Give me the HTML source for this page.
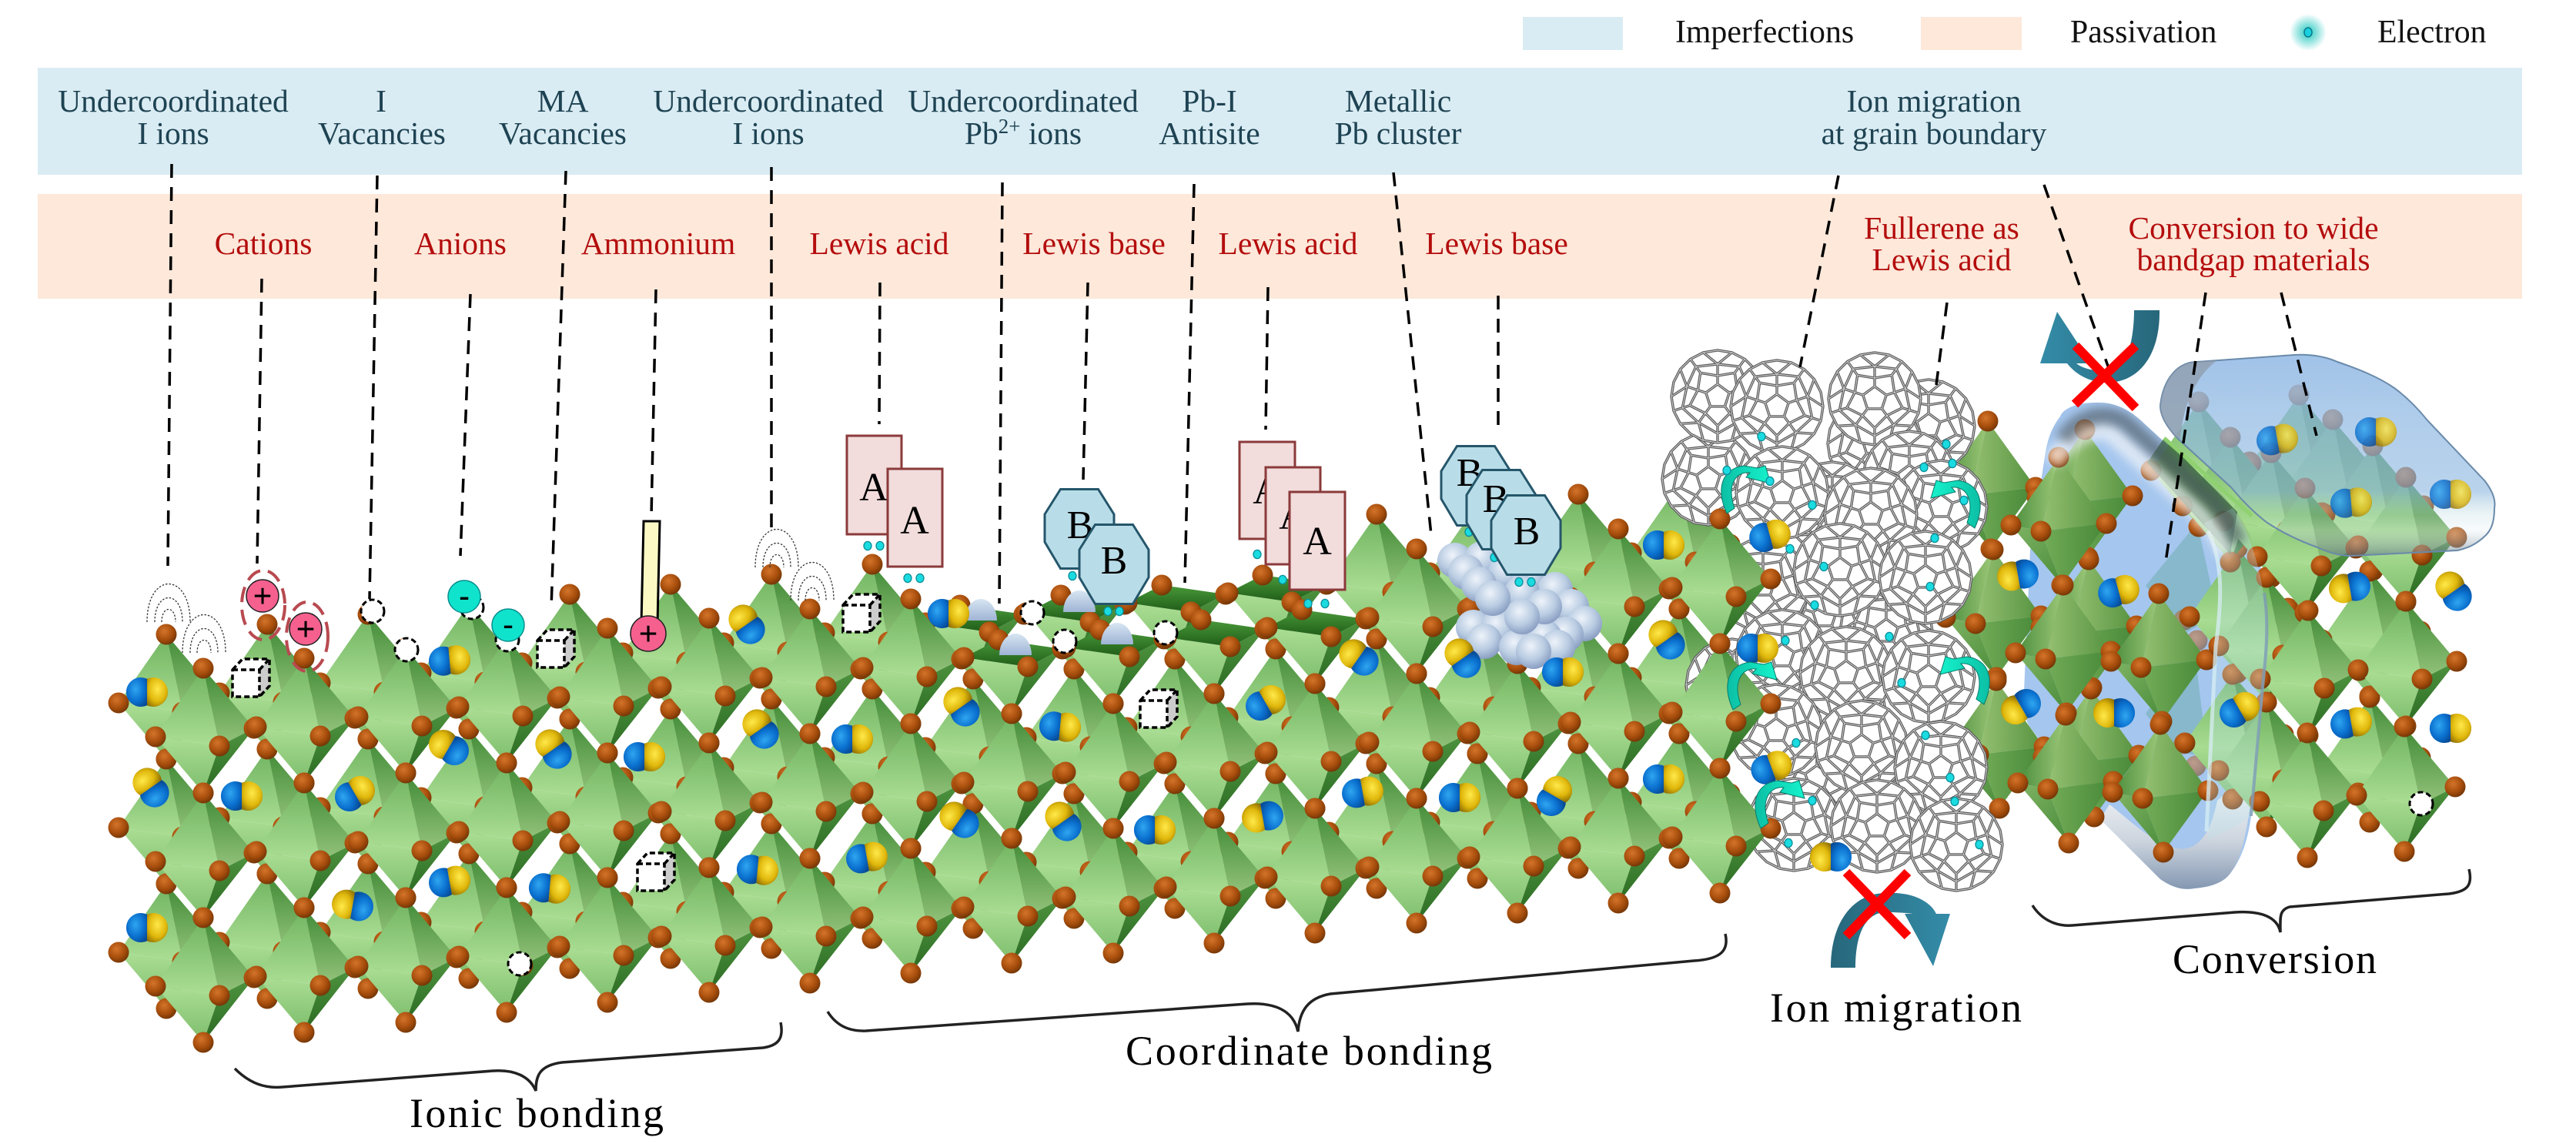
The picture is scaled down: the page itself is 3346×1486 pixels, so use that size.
<!DOCTYPE html>
<html><head><meta charset="utf-8"><style>html,body{margin:0;padding:0;background:#fff}svg{display:block}text{font-family:"Liberation Serif",serif}</style></head><body>
<svg xmlns="http://www.w3.org/2000/svg" width="3346" height="1486" viewBox="0 0 3346 1486">
<defs>
<linearGradient id="fa" x1="0" y1="0" x2="0" y2="1"><stop offset="0" stop-color="#6fb35f"/><stop offset="1" stop-color="#abde94"/></linearGradient>
<linearGradient id="fb" x1="0" y1="0" x2="0" y2="1"><stop offset="0" stop-color="#3f8a35"/><stop offset="1" stop-color="#95c47c"/></linearGradient>
<linearGradient id="fc" x1="0" y1="0" x2="0" y2="1"><stop offset="0" stop-color="#abde94"/><stop offset="1" stop-color="#7dbd6c"/></linearGradient>
<linearGradient id="fd" x1="0" y1="0" x2="0" y2="1"><stop offset="0" stop-color="#4f9440"/><stop offset="1" stop-color="#2a6a22"/></linearGradient>
<linearGradient id="p1" x1="0" y1="0" x2="1" y2="0"><stop offset="0" stop-color="#4a8c3c"/><stop offset="1" stop-color="#9cc878"/></linearGradient>
<linearGradient id="p2" x1="0" y1="0" x2="1" y2="0"><stop offset="0" stop-color="#96c173"/><stop offset="1" stop-color="#55923f"/></linearGradient>
<linearGradient id="p3" x1="0" y1="0" x2="1" y2="1"><stop offset="0" stop-color="#80b565"/><stop offset="1" stop-color="#4a8c3a"/></linearGradient>
<linearGradient id="p4" x1="0" y1="0" x2="1" y2="0"><stop offset="0" stop-color="#74ad58"/><stop offset="1" stop-color="#468838"/></linearGradient>
<linearGradient id="flat" x1="0" y1="0" x2="0" y2="1"><stop offset="0" stop-color="#4a9a3a"/><stop offset="1" stop-color="#1f5c18"/></linearGradient>
<radialGradient id="bd" cx=".4" cy=".35" r=".7"><stop offset="0" stop-color="#d4742a"/><stop offset=".6" stop-color="#a64d0c"/><stop offset="1" stop-color="#6c3306"/></radialGradient>
<radialGradient id="by" cx=".5" cy=".4" r=".7"><stop offset="0" stop-color="#ffe94a"/><stop offset=".6" stop-color="#e0b80c"/><stop offset="1" stop-color="#8f7004"/></radialGradient>
<radialGradient id="bb" cx=".45" cy=".4" r=".7"><stop offset="0" stop-color="#2fa6f0"/><stop offset=".6" stop-color="#0a70cf"/><stop offset="1" stop-color="#074a95"/></radialGradient>
<radialGradient id="sph" cx=".42" cy=".35" r=".7"><stop offset="0" stop-color="#eef3fa"/><stop offset=".55" stop-color="#b9cce2"/><stop offset="1" stop-color="#8296bd"/></radialGradient>
<linearGradient id="dome" x1="0" y1="0" x2="0" y2="1"><stop offset="0" stop-color="#d7e6f2"/><stop offset="1" stop-color="#9fb4d6"/></linearGradient>
<linearGradient id="teal" x1="0" y1="0" x2="1" y2="0"><stop offset="0" stop-color="#348ca8"/><stop offset="1" stop-color="#27677b"/></linearGradient>
<linearGradient id="teal2" x1="0" y1="0" x2="1" y2="0"><stop offset="0" stop-color="#27677b"/><stop offset="1" stop-color="#348ca8"/></linearGradient>
<linearGradient id="grn" x1="0" y1="0" x2="1" y2="0"><stop offset="0" stop-color="#0cbfa5"/><stop offset="1" stop-color="#16f2cc"/></linearGradient>
<radialGradient id="glow"><stop offset="0" stop-color="#25c8c0"/><stop offset="1" stop-color="#25c8c0" stop-opacity="0"/></radialGradient>
<linearGradient id="blob" x1="0" y1="0" x2="0" y2="1"><stop offset="0" stop-color="#9cbfe6" stop-opacity=".95"/><stop offset=".3" stop-color="#93bbe4" stop-opacity=".74"/><stop offset=".68" stop-color="#8fb8e0" stop-opacity=".62"/><stop offset=".8" stop-color="#b5d6dc" stop-opacity=".25"/><stop offset=".87" stop-color="#e6f2f6" stop-opacity=".3"/><stop offset="1" stop-color="#5d7180" stop-opacity=".6"/></linearGradient>
<linearGradient id="bot" x1="0" y1="0" x2="0" y2="1"><stop offset="0" stop-color="#fff"/><stop offset=".6" stop-color="#ccd4de"/><stop offset="1" stop-color="#8498b2"/></linearGradient>
<filter id="bl" x="-20%" y="-20%" width="140%" height="140%"><feGaussianBlur stdDeviation="6"/></filter>
<clipPath id="tubeclip"><path d="M2728,523C2700,522 2680,530 2676,541C2665,555 2660,570 2657,587L2637,715L2629,899C2628,920 2630,935 2637,945L2728,1064L2806,1142C2825,1155 2838,1156 2850,1154C2875,1152 2890,1145 2898,1133C2912,1115 2920,1090 2924,1060L2945,853C2948,800 2945,780 2941,761C2935,725 2930,705 2919,688C2910,670 2895,650 2880,637L2785,550C2770,535 2750,523 2728,523Z"/></clipPath>
<g id="b"><circle r="13.5" fill="url(#bd)"/></g>
<g id="o">
<polygon points="0,0 -62,89 21,101" fill="url(#fa)"/><polygon points="0,0 21,101 66,78" fill="url(#fb)"/><polygon points="-62,89 21,101 0,162" fill="url(#fc)"/><polygon points="21,101 66,78 0,162" fill="url(#fd)"/>
<use href="#b"/><use href="#b" x="-62" y="89"/><use href="#b" x="21" y="101"/><use href="#b" x="66" y="78"/><use href="#b" y="162"/></g>
<g id="h">
<polygon points="-62,89 21,101 0,162" fill="url(#fc)"/><polygon points="21,101 66,78 0,162" fill="url(#fd)"/><polygon points="-62,89 21,101 66,78 -17,66" fill="url(#flat)"/>
<use href="#b" x="-17" y="66"/><use href="#b" x="-62" y="89"/><use href="#b" x="21" y="101"/><use href="#b" x="66" y="78"/><use href="#b" y="162"/></g>
<g id="p">
<polygon points="0,0 -62,88 -23,96" fill="url(#p1)"/><polygon points="0,0 -23,96 62,86" fill="url(#p2)"/><polygon points="-62,88 -23,96 4,166" fill="url(#p3)"/><polygon points="-23,96 62,86 4,166" fill="url(#p4)"/>
<use href="#b"/><use href="#b" x="-62" y="88"/><use href="#b" x="-23" y="96"/><use href="#b" x="62" y="86"/><use href="#b" x="4" y="166"/></g>
<g id="m"><path d="M0,-17.2A19,19 0 1 0 0,17.2Z" fill="url(#bb)"/><path d="M0,-17.2A19,19 0 1 1 0,17.2Z" fill="url(#by)"/></g>
<g id="w" fill="none" stroke="#333" stroke-width="1.3" stroke-dasharray="2.5 2"><path d="M-28,0C-28,-66 28,-66 28,0"/><path d="M-18,0C-18,-42 18,-42 18,0"/><path d="M-9,0C-9,-22 9,-22 9,0"/></g>
<g id="c"><polygon points="0,14 13,0 48,0 35,14" fill="#fff"/><polygon points="35,14 48,0 48,35 35,49" fill="#ccc"/><rect y="14" width="35" height="35" fill="#fff"/><path d="M0,14L13,0H48V35L35,49H0ZM0,14H35V49M35,14L48,0" fill="none" stroke="#000" stroke-width="3.5" stroke-dasharray="7 4"/></g>
<g id="v"><circle r="15" fill="#fff" stroke="#000" stroke-width="3" stroke-dasharray="7 4"/></g>
<g id="e"><ellipse rx="5" ry="5.6" fill="#1adbe0" stroke="#0a8f9a" stroke-width="1.3"/></g>
<g id="s"><circle r="23" fill="url(#sph)"/></g>
<path id="fp" d="M0,-16L15.2,-4.9L9.4,12.9L-9.4,12.9L-15.2,-4.9ZM0,-16V-27M15.2,-4.9L25.7,-8.3M9.4,12.9L15.9,21.8M-9.4,12.9L-15.9,21.8M-15.2,-4.9L-25.7,-8.3M0,-27L22.3,-30.7L25.7,-8.3L36.1,11.7L15.9,21.8L0,38L-15.9,21.8L-36.1,11.7L-25.7,-8.3L-22.3,-30.7ZM22.3,-30.7L28.2,-38.8M36.1,11.7L45.7,14.8M0,38V48M-36.1,11.7L-45.7,14.8M-22.3,-30.7L-28.2,-38.8M0,-27V-42M25.7,-8.3L39.9,-13M15.9,21.8L24.7,34M-15.9,21.8L-24.7,34M-25.7,-8.3L-39.9,-13M0,-42L28.2,-38.8L39.9,-13L45.7,14.8L24.7,34L0,48L-24.7,34L-45.7,14.8L-39.9,-13L-28.2,-38.8ZM28.2,-38.8L35.3,-48.5M45.7,14.8L57.1,18.5M0,48V60M-45.7,14.8L-57.1,18.5M-28.2,-38.8L-35.3,-48.5M0,-42L-18.5,-57.1M0,-42L18.5,-57.1M39.9,-13L60,0M39.9,-13L48.5,-35.3M24.7,34L48.5,35.3M24.7,34L18.5,57.1M-24.7,34L-18.5,57.1M-24.7,34L-48.5,35.3M-39.9,-13L-60,0M-39.9,-13L-48.5,-35.3M60,0L57.1,18.5L48.5,35.3L35.3,48.5L18.5,57.1L0,60L-18.5,57.1L-35.3,48.5L-48.5,35.3L-57.1,18.5L-60,0L-57.1,-18.5L-48.5,-35.3L-35.3,-48.5L-18.5,-57.1L0,-60L18.5,-57.1L35.3,-48.5L48.5,-35.3L57.1,-18.5Z"/>
<g id="f"><circle r="59" fill="#fff"/><use href="#fp" fill="none" stroke="#5c5c5c" stroke-width="3.4"/><use href="#fp" fill="none" stroke="#d2d2d2" stroke-width="1"/></g>
<path id="g1" d="M0,0C-14,-30 -8,-58 22,-62L40,-59L50,-62L57,-39L25,-47L30,-53C10,-55 0,-35 10,-7Z" fill="url(#grn)" stroke="#087a6a" stroke-width="1"/>
<polygon id="oc" points="-24.5,-51.5 24.5,-51.5 45,-19 45,17 24.5,51.5 -24.5,51.5 -45,17 -45,-19" fill="#b9dde8" stroke="#25566b" stroke-width="3"/>
</defs>

<!-- legend -->
<rect x="1978" y="22" width="130" height="43" fill="#daecf3"/>
<text x="2176" y="55" font-size="41.8" fill="#111">Imperfections</text>
<rect x="2495" y="22" width="131" height="43" fill="#fde8da"/>
<text x="2689" y="55" font-size="41.8" fill="#111">Passivation</text>
<circle cx="2998" cy="42" r="24" fill="url(#glow)"/><ellipse cx="2998" cy="42" rx="5" ry="6" fill="#1ad0e0" stroke="#0a7a8a" stroke-width="1.5"/>
<text x="3088" y="55" font-size="41.8" fill="#111">Electron</text>

<!-- bands -->
<rect x="49" y="88" width="3227" height="139" fill="#daecf3"/>
<rect x="49" y="252" width="3227" height="136" fill="#fde8da"/>
<g font-size="41.5" fill="#1e4353" text-anchor="middle">
<text x="225" y="145">Undercoordinated</text><text x="225" y="187">I ions</text>
<text x="495" y="145">I</text><text x="496" y="187">Vacancies</text>
<text x="731" y="145">MA</text><text x="731" y="187">Vacancies</text>
<text x="998" y="145">Undercoordinated</text><text x="998" y="187">I ions</text>
<text x="1329" y="145">Undercoordinated</text><text x="1329" y="187">Pb<tspan dy="-14" font-size="27">2+</tspan><tspan dy="14"> ions</tspan></text>
<text x="1571" y="145">Pb-I</text><text x="1571" y="187">Antisite</text>
<text x="1816" y="145">Metallic</text><text x="1816" y="187">Pb cluster</text>
<text x="2512" y="145">Ion migration</text><text x="2512" y="187">at grain boundary</text>
</g>
<g font-size="41.5" fill="#b40d0d" text-anchor="middle">
<text x="342" y="330">Cations</text><text x="598" y="330">Anions</text><text x="855" y="330">Ammonium</text>
<text x="1142" y="330">Lewis acid</text><text x="1421" y="330">Lewis base</text><text x="1673" y="330">Lewis acid</text><text x="1944" y="330">Lewis base</text>
<text x="2522" y="310">Fullerene as</text><text x="2522" y="351">Lewis acid</text>
<text x="2927" y="310">Conversion to wide</text><text x="2927" y="351">bandgap materials</text>
</g>

<!-- blue blob background -->
<path d="M2728,523C2700,522 2680,530 2676,541C2665,555 2660,570 2657,587L2637,715L2629,899C2628,920 2630,935 2637,945L2728,1064L2806,1142C2825,1155 2838,1156 2850,1154C2875,1152 2890,1145 2898,1133C2912,1115 2920,1090 2924,1060L2945,853C2948,800 2945,780 2941,761C2935,725 2930,705 2919,688C2910,670 2895,650 2880,637L2785,550C2770,535 2750,523 2728,523Z" fill="#a5c6ee"/>
<path d="M2728,1064L2806,1142C2825,1155 2838,1156 2850,1154C2875,1152 2890,1145 2898,1133C2915,1110 2922,1060 2928,1000L2880,1040C2870,1090 2850,1110 2820,1100C2790,1090 2760,1060 2740,1045Z" fill="url(#bot)"/>

<!-- left block back layer -->
<g>
<use href="#o" x="216" y="824"/><use href="#o" x="347" y="811"/><use href="#o" x="478" y="798"/><use href="#o" x="609" y="785"/><use href="#o" x="740" y="772"/><use href="#o" x="871" y="759"/><use href="#o" x="1002" y="746"/><use href="#o" x="1133" y="733"/><use href="#h" x="1264" y="720"/><use href="#h" x="1395" y="707"/><use href="#h" x="1526" y="694"/><use href="#h" x="1657" y="681"/><use href="#o" x="1788" y="668"/><use href="#o" x="1919" y="655"/><use href="#o" x="2050" y="642"/><use href="#o" x="2181" y="629"/>
<use href="#o" x="216" y="986"/><use href="#o" x="347" y="973"/><use href="#o" x="478" y="960"/><use href="#o" x="609" y="947"/><use href="#o" x="740" y="934"/><use href="#o" x="871" y="921"/><use href="#o" x="1002" y="908"/><use href="#o" x="1133" y="895"/><use href="#o" x="1264" y="882"/><use href="#o" x="1395" y="869"/><use href="#o" x="1526" y="856"/><use href="#o" x="1657" y="843"/><use href="#o" x="1788" y="830"/><use href="#o" x="1919" y="817"/><use href="#o" x="2050" y="804"/><use href="#o" x="2181" y="791"/>
<use href="#o" x="216" y="1148"/><use href="#o" x="347" y="1135"/><use href="#o" x="478" y="1122"/><use href="#o" x="609" y="1109"/><use href="#o" x="740" y="1096"/><use href="#o" x="871" y="1083"/><use href="#o" x="1002" y="1070"/><use href="#o" x="1133" y="1057"/><use href="#o" x="1264" y="1044"/><use href="#o" x="1395" y="1031"/><use href="#o" x="1526" y="1018"/><use href="#o" x="1657" y="1005"/><use href="#o" x="1788" y="992"/><use href="#o" x="1919" y="979"/><use href="#o" x="2050" y="966"/><use href="#o" x="2181" y="953"/>
</g>

<!-- right block -->
<g>
<use href="#p" x="2582" y="547"/><use href="#p" x="2589" y="714"/><use href="#p" x="2593" y="884"/>
<use href="#p" x="2708" y="558"/><use href="#p" x="2713" y="727"/><use href="#p" x="2716" y="895"/>
<polygon points="2787,761 2854,679 2880,798 2841,821" fill="#7db3c0" opacity=".75"/>
<polygon points="2787,927 2850,839 2867,982 2824,977" fill="#7db3c0" opacity=".75"/>
<use href="#b" x="2837" y="805" opacity=".5"/><use href="#b" x="2854" y="832" opacity=".5"/><use href="#b" x="2837" y="966" opacity=".5"/><use href="#b" x="2852" y="995" opacity=".5"/>
<use href="#p" x="2674" y="594"/><use href="#p" x="2680" y="760"/><use href="#p" x="2683" y="929"/>
<use href="#p" x="2804" y="771"/><use href="#p" x="2806" y="941"/>
<use href="#o" x="2906" y="712"/><use href="#o" x="2900" y="876"/>
<use href="#o" x="2856" y="522"/><use href="#o" x="2986" y="513"/><use href="#o" x="2897" y="568"/>
<use href="#o" x="3030" y="545"/>
<use href="#o" x="2950" y="588"/><use href="#o" x="2944" y="750"/><use href="#o" x="2944" y="912"/>
<use href="#o" x="3082" y="579"/><use href="#o" x="3078" y="742"/><use href="#o" x="3078" y="906"/>
<use href="#o" x="2994" y="634"/><use href="#o" x="2998" y="793"/><use href="#o" x="2997" y="952"/>
<use href="#o" x="3125" y="620"/><use href="#o" x="3125" y="781"/><use href="#o" x="3123" y="944"/>
</g>

<!-- blob overlays -->
<polygon points="2811,569 2906,665 2897,720 2789,601" fill="#2f5f35" opacity=".75"/>
<path d="M2862,680C2890,720 2888,770 2880,840L2872,1000L2868,1090C2890,1080 2915,1070 2924,1060L2945,853C2948,780 2930,700 2900,660Z" fill="#bfe2ec" fill-opacity=".32"/>
<path d="M2868,690C2888,730 2886,780 2878,840L2870,1000L2866,1080" fill="none" stroke="#d5ecf2" stroke-width="5" stroke-opacity=".8"/>
<path d="M2941,770C2946,800 2945,840 2940,880L2924,1060" fill="none" stroke="#7d9bb5" stroke-width="4" stroke-opacity=".8"/>
<g clip-path="url(#tubeclip)">
<path d="M2665,600C2690,565 2725,550 2745,565L2850,660C2870,680 2885,700 2892,720" fill="none" stroke="#f2f5f8" stroke-width="24" stroke-opacity=".7" filter="url(#bl)"/>
<path d="M2680,572C2695,545 2730,530 2760,548L2872,648C2888,665 2900,685 2908,705" fill="none" stroke="#4a5660" stroke-width="22" stroke-opacity=".62" filter="url(#bl)"/>
</g>
<line x1="2811" y1="569" x2="2925" y2="670" stroke="#8fd070" stroke-width="5"/>
<path d="M2806,527C2810,490 2830,470 2854,470L2980,461C3000,460 3020,463 3036,470C3065,480 3090,490 3110,504C3125,515 3140,530 3153,546L3227,624C3238,638 3242,650 3240,660C3240,680 3235,690 3227,697C3215,708 3205,712 3192,715L3054,722C3040,722 3025,718 3010,711C2985,702 2965,692 2945,679C2930,668 2912,650 2898,633L2828,569C2815,555 2806,540 2806,527Z" fill="url(#blob)" stroke="#6a8aaa" stroke-width="2"/>
<path d="M2806,527C2810,490 2830,470 2854,470L2880,468C2850,490 2835,530 2832,570L2828,569C2815,555 2806,540 2806,527Z" fill="#8d99a6" opacity=".7"/>

<!-- fullerenes -->
<g>
<use href="#f" x="2219" y="622"/><use href="#f" x="2231" y="515"/><use href="#f" x="2505" y="553"/><use href="#f" x="2434" y="576"/><use href="#f" x="2308" y="528"/><use href="#f" x="2435" y="518"/><use href="#f" x="2380" y="660"/><use href="#f" x="2480" y="620"/><use href="#f" x="2315" y="640"/><use href="#f" x="2521" y="658"/><use href="#f" x="2430" y="668"/><use href="#f" x="2370" y="800"/><use href="#f" x="2450" y="820"/><use href="#f" x="2290" y="760"/><use href="#f" x="2390" y="740"/><use href="#f" x="2501" y="750"/><use href="#f" x="2250" y="890"/><use href="#f" x="2390" y="930"/><use href="#f" x="2315" y="852"/><use href="#f" x="2398" y="874"/><use href="#f" x="2505" y="879"/><use href="#f" x="2360" y="1010"/><use href="#f" x="2480" y="1020"/><use href="#f" x="2307" y="949"/><use href="#f" x="2418" y="970"/><use href="#f" x="2521" y="997"/><use href="#f" x="2330" y="1071"/><use href="#f" x="2438" y="1073"/><use href="#f" x="2541" y="1097"/>
</g>

<!-- left block front layer -->
<g>
<use href="#o" x="264" y="868"/><use href="#o" x="395" y="855"/><use href="#o" x="527" y="842"/><use href="#o" x="658" y="829"/><use href="#o" x="789" y="816"/><use href="#o" x="921" y="803"/><use href="#o" x="1052" y="791"/><use href="#o" x="1183" y="778"/><use href="#h" x="1314" y="765"/><use href="#h" x="1446" y="752"/><use href="#h" x="1577" y="739"/><use href="#h" x="1708" y="726"/><use href="#o" x="1840" y="713"/><use href="#o" x="1971" y="700"/><use href="#o" x="2102" y="687"/><use href="#o" x="2234" y="674"/>
<use href="#o" x="264" y="1030"/><use href="#o" x="395" y="1017"/><use href="#o" x="527" y="1004"/><use href="#o" x="658" y="991"/><use href="#o" x="789" y="978"/><use href="#o" x="921" y="965"/><use href="#o" x="1052" y="953"/><use href="#o" x="1183" y="940"/><use href="#o" x="1314" y="927"/><use href="#o" x="1446" y="914"/><use href="#o" x="1577" y="901"/><use href="#o" x="1708" y="888"/><use href="#o" x="1840" y="875"/><use href="#o" x="1971" y="862"/><use href="#o" x="2102" y="849"/><use href="#o" x="2234" y="836"/>
<use href="#o" x="264" y="1192"/><use href="#o" x="395" y="1179"/><use href="#o" x="527" y="1166"/><use href="#o" x="658" y="1153"/><use href="#o" x="789" y="1140"/><use href="#o" x="921" y="1127"/><use href="#o" x="1052" y="1115"/><use href="#o" x="1183" y="1102"/><use href="#o" x="1314" y="1089"/><use href="#o" x="1446" y="1076"/><use href="#o" x="1577" y="1063"/><use href="#o" x="1708" y="1050"/><use href="#o" x="1840" y="1037"/><use href="#o" x="1971" y="1024"/><use href="#o" x="2102" y="1011"/><use href="#o" x="2234" y="998"/>
</g>

<!-- domes -->
<g fill="url(#dome)"><path d="M1253,806A21,28 0 0 1 1295,806Z"/><path d="M1381,795A21,28 0 0 1 1423,795Z"/><path d="M1430,837A21,28 0 0 1 1472,837Z"/><path d="M1298,851A21,28 0 0 1 1340,851Z"/></g>

<!-- metallic cluster -->
<g>
<use href="#s" x="1890" y="728"/><use href="#s" x="1925" y="726"/><use href="#s" x="1956" y="743"/><use href="#s" x="1904" y="743"/><use href="#s" x="1985" y="752"/><use href="#s" x="1921" y="759"/><use href="#s" x="2020" y="766"/><use href="#s" x="2041" y="788"/><use href="#s" x="1977" y="770"/><use href="#s" x="2058" y="810"/><use href="#s" x="2034" y="824"/><use href="#s" x="1914" y="815"/><use href="#s" x="1946" y="815"/><use href="#s" x="2006" y="828"/><use href="#s" x="1928" y="833"/><use href="#s" x="2023" y="841"/><use href="#s" x="1970" y="841"/><use href="#s" x="1992" y="846"/><use href="#s" x="2006" y="788"/><use href="#s" x="1977" y="801"/><use href="#s" x="1939" y="777"/>
</g>

<!-- MA molecules -->
<g>
<use href="#m" transform="translate(191,899)"/><use href="#m" transform="translate(584,858) rotate(-5)"/><use href="#m" transform="translate(970,811) rotate(-125)"/><use href="#m" transform="translate(988,947) rotate(-125)"/><use href="#m" transform="translate(1107,960)"/><use href="#m" transform="translate(196,1023) rotate(-125)"/><use href="#m" transform="translate(314,1034)"/><use href="#m" transform="translate(461,1031) rotate(-30)"/><use href="#m" transform="translate(583,971) rotate(-150)"/><use href="#m" transform="translate(719,973) rotate(-125)"/><use href="#m" transform="translate(837,983)"/><use href="#m" transform="translate(584,1145) rotate(-10)"/><use href="#m" transform="translate(714,1154) rotate(5)"/><use href="#m" transform="translate(984,1130) rotate(5)"/><use href="#m" transform="translate(1126,1114) rotate(-10)"/><use href="#m" transform="translate(191,1205)"/><use href="#m" transform="translate(458,1176) rotate(190)"/>
<use href="#m" transform="translate(1232,797)"/><use href="#m" transform="translate(1249,918) rotate(-125)"/><use href="#m" transform="translate(1377,944) rotate(5)"/><use href="#m" transform="translate(1644,913) rotate(-30)"/><use href="#m" transform="translate(1765,854) rotate(-145)"/><use href="#m" transform="translate(1900,855) rotate(-125)"/><use href="#m" transform="translate(2030,873)"/><use href="#m" transform="translate(2161,708)"/><use href="#m" transform="translate(2165,831) rotate(-125)"/><use href="#m" transform="translate(1246,1065) rotate(-145)"/><use href="#m" transform="translate(1381,1067) rotate(-125)"/><use href="#m" transform="translate(1500,1078)"/><use href="#m" transform="translate(1640,1061) rotate(170)"/><use href="#m" transform="translate(1770,1029) rotate(-10)"/><use href="#m" transform="translate(1896,1036)"/><use href="#m" transform="translate(2019,1034) rotate(-60)"/><use href="#m" transform="translate(2161,1012)"/>
<use href="#m" transform="translate(2299,696) rotate(-15)"/><use href="#m" transform="translate(2283,842)"/><use href="#m" transform="translate(2301,997) rotate(-20)"/><use href="#m" transform="translate(2378,1113) rotate(180)"/>
<use href="#m" transform="translate(2621,747) rotate(170)"/><use href="#m" transform="translate(2752,768) rotate(-15)"/><use href="#m" transform="translate(2625,918) rotate(150)"/><use href="#m" transform="translate(2746,926) rotate(180)"/><use href="#m" transform="translate(2909,922) rotate(-30)"/>
<use href="#m" transform="translate(3052,763) rotate(170)"/><use href="#m" transform="translate(3187,768) rotate(-125)"/><use href="#m" transform="translate(3054,939) rotate(-10)"/><use href="#m" transform="translate(3183,946)"/>
<g opacity=".8"><use href="#m" transform="translate(2958,571) rotate(-10)"/><use href="#m" transform="translate(3086,561)"/><use href="#m" transform="translate(3054,653) rotate(-5)"/><use href="#m" transform="translate(3183,642)"/></g>
</g>

<!-- curved green arrows -->
<use href="#g1" x="2243" y="667"/><use href="#g1" transform="translate(2565,686) scale(-1,1)"/><use href="#g1" x="2251" y="922"/><use href="#g1" transform="translate(2577,915) scale(-1,1)"/><use href="#g1" x="2287" y="1076"/>

<!-- electrons -->
<g>
<use href="#e" x="2288" y="567"/><use href="#e" x="2243" y="611"/><use href="#e" x="2299" y="625"/><use href="#e" x="2354" y="656"/><use href="#e" x="2528" y="577"/><use href="#e" x="2499" y="607"/><use href="#e" x="2536" y="602"/><use href="#e" x="2551" y="650"/><use href="#e" x="2513" y="699"/><use href="#e" x="2325" y="713"/><use href="#e" x="2369" y="736"/><use href="#e" x="2507" y="762"/><use href="#e" x="2357" y="786"/><use href="#e" x="2319" y="832"/><use href="#e" x="2454" y="827"/><use href="#e" x="2470" y="887"/><use href="#e" x="2501" y="955"/><use href="#e" x="2333" y="965"/><use href="#e" x="2533" y="1010"/><use href="#e" x="2539" y="1041"/><use href="#e" x="2354" y="1040"/><use href="#e" x="2323" y="1095"/><use href="#e" x="2571" y="1097"/>
<use href="#e" x="1127" y="709"/><use href="#e" x="1143" y="709"/><use href="#e" x="1179" y="751"/><use href="#e" x="1195" y="751"/><use href="#e" x="1393" y="748"/><use href="#e" x="1439" y="794"/><use href="#e" x="1454" y="794"/><use href="#e" x="1633" y="720"/><use href="#e" x="1666" y="753"/><use href="#e" x="1699" y="784"/><use href="#e" x="1721" y="784"/><use href="#e" x="1908" y="691"/><use href="#e" x="1941" y="724"/><use href="#e" x="1973" y="756"/><use href="#e" x="1989" y="756"/>
</g>

<!-- vacancies and cubes -->
<use href="#v" x="484" y="794"/><use href="#v" x="528" y="844"/><use href="#v" x="613" y="789"/><use href="#v" x="659" y="831"/><use href="#v" x="675" y="1252"/><use href="#v" x="1341" y="796"/><use href="#v" x="1383" y="833"/><use href="#v" x="1514" y="822"/><use href="#v" x="3145" y="1044"/>
<use href="#c" x="302" y="856"/><use href="#c" x="698" y="818"/><use href="#c" x="1095" y="772"/><use href="#c" x="828" y="1108"/><use href="#c" x="1481" y="896"/>

<!-- undercoordinated arcs -->
<use href="#w" x="219" y="808"/><use href="#w" x="265" y="848"/><use href="#w" x="1009" y="737"/><use href="#w" x="1055" y="780"/>

<!-- cations and anions -->
<ellipse cx="342" cy="786" rx="28" ry="45" fill="none" stroke="#b84a50" stroke-width="4" stroke-dasharray="20 10"/>
<ellipse cx="399" cy="827" rx="27" ry="45" fill="none" stroke="#b84a50" stroke-width="4" stroke-dasharray="20 10"/>
<circle cx="341" cy="774" r="21" fill="#f5608f" stroke="#222" stroke-width="1.5"/><text x="341" y="789" font-size="44" font-weight="bold" text-anchor="middle" fill="#000">+</text>
<circle cx="397" cy="817" r="21" fill="#f5608f" stroke="#222" stroke-width="1.5"/><text x="397" y="832" font-size="44" font-weight="bold" text-anchor="middle" fill="#000">+</text>
<polygon points="836,677 857,677 854,810 833,810" fill="#fdf9c4" stroke="#000" stroke-width="3"/>
<circle cx="842" cy="823" r="23" fill="#f5608f" stroke="#222" stroke-width="1.5"/><text x="842" y="838" font-size="44" font-weight="bold" text-anchor="middle" fill="#000">+</text>
<circle cx="603" cy="775" r="21" fill="#10e3cc" stroke="#0a8f8f" stroke-width="1.5"/><text x="603" y="787" font-size="40" font-weight="bold" text-anchor="middle" fill="#000">-</text>
<circle cx="660" cy="812" r="21" fill="#10e3cc" stroke="#0a8f8f" stroke-width="1.5"/><text x="660" y="824" font-size="40" font-weight="bold" text-anchor="middle" fill="#000">-</text>

<!-- Lewis acids -->
<rect x="1100" y="566" width="71" height="128" fill="#f2dcdc" stroke="#8b3a3a" stroke-width="3"/>
<text x="1135" y="650" font-size="52" text-anchor="middle" fill="#000">A</text>
<rect x="1153" y="609" width="71" height="127" fill="#f2dcdc" stroke="#8b3a3a" stroke-width="3"/><text x="1188" y="693" font-size="52" text-anchor="middle" fill="#000">A</text>
<rect x="1610" y="574" width="72" height="126" fill="#f2dcdc" stroke="#8b3a3a" stroke-width="3"/><text x="1646" y="654" font-size="52" text-anchor="middle" fill="#000">A</text>
<rect x="1644" y="607" width="71" height="126" fill="#f2dcdc" stroke="#8b3a3a" stroke-width="3"/><text x="1680" y="687" font-size="52" text-anchor="middle" fill="#000">A</text>
<rect x="1675" y="639" width="72" height="127" fill="#f2dcdc" stroke="#8b3a3a" stroke-width="3"/><text x="1711" y="720" font-size="52" text-anchor="middle" fill="#000">A</text>

<!-- Lewis bases -->
<use href="#oc" x="1402" y="687"/><text x="1403" y="699" font-size="52" text-anchor="middle" fill="#000">B</text>
<use href="#oc" x="1447" y="733"/><text x="1447" y="745" font-size="52" text-anchor="middle" fill="#000">B</text>
<use href="#oc" x="1917" y="631"/><text x="1909" y="631" font-size="52" text-anchor="middle" fill="#000">B</text>
<use href="#oc" x="1950" y="662"/><text x="1943" y="665" font-size="52" text-anchor="middle" fill="#000">B</text>
<use href="#oc" x="1982" y="695"/><text x="1983" y="707" font-size="52" text-anchor="middle" fill="#000">B</text>

<!-- dashed leaders -->
<g stroke="#000" stroke-width="3.5" stroke-dasharray="18 12" fill="none">
<path d="M223,213L218,735"/><path d="M340,362L334,732"/><path d="M490,228L480,778"/><path d="M611,382L598,722"/><path d="M735,222L716,790"/><path d="M852,376L846,671"/><path d="M1002,217V689"/><path d="M1143,367L1142,551"/><path d="M1302,237L1298,784"/><path d="M1413,367L1407,623"/><path d="M1551,239L1539,757"/><path d="M1647,373L1644,558"/><path d="M1810,224L1859,695"/><path d="M1946,384V554"/><path d="M2388,228L2338,477"/><path d="M2529,393L2515,500"/><path d="M2865,380L2813,730"/><path d="M2963,380L3009,566"/>
</g>

<!-- big teal arrows -->
<path d="M2772,403L2805,403C2806,465 2775,498 2735,497C2712,496 2695,485 2685,472L2650,472L2672,405L2716,472L2697,472C2710,483 2750,490 2765,455C2770,440 2772,420 2772,403Z" fill="url(#teal)"/>
<path d="M2655,240L2753,518" stroke="#000" stroke-width="3.5" stroke-dasharray="18 12" fill="none"/>
<path d="M2378,1257L2410,1257C2410,1210 2425,1185 2450,1185C2465,1185 2478,1186 2485,1187L2474,1187L2511,1255L2533,1187L2515,1187C2510,1175 2490,1158 2450,1160C2405,1160 2378,1200 2378,1257Z" fill="url(#teal2)"/>
<g stroke="#f00" stroke-width="12" fill="none"><path d="M2696,449L2774,530M2774,449L2695,525M2398,1133L2478,1216M2478,1133L2398,1216"/></g>

<!-- braces -->
<g fill="none" stroke="#222" stroke-width="3.5">
<path d="M305,1388C325,1408 345,1414 367,1412L640,1391C668,1389 688,1398 696,1417C696,1398 700,1384 730,1380L991,1361C1012,1358 1018,1348 1014,1328"/>
<path d="M1075,1314C1085,1330 1100,1340 1125,1339L1620,1304C1655,1302 1680,1312 1686,1340C1688,1312 1700,1296 1728,1291L2200,1248C2235,1246 2246,1235 2241,1213"/>
<path d="M2640,1176C2650,1192 2668,1204 2692,1202L2903,1185C2935,1183 2958,1190 2962,1211C2962,1192 2960,1182 2974,1178L3181,1161C3205,1158 3212,1150 3207,1129"/>
</g>
<g fill="#000" font-size="54">
<text x="532" y="1464" textLength="330" lengthAdjust="spacing">Ionic bonding</text>
<text x="1462" y="1383" textLength="476" lengthAdjust="spacing">Coordinate bonding</text>
<text x="2299" y="1327" textLength="327" lengthAdjust="spacing">Ion migration</text>
<text x="2822" y="1264" textLength="265" lengthAdjust="spacing">Conversion</text>
</g>
</svg>
</body></html>
